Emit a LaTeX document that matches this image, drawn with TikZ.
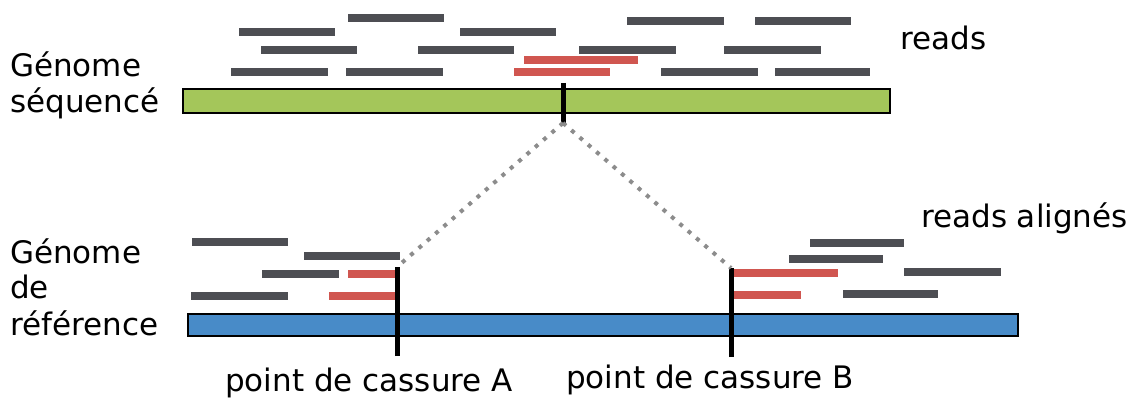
\documentclass[tikz,border=0pt]{standalone}
\usepackage{fontspec}
\setmainfont{DejaVu Sans}
\usepackage{tikz}
\usetikzlibrary{positioning}
\definecolor{readGray}{RGB}{77,78,83}
\definecolor{readRed}{RGB}{208,86,80}
\definecolor{seqGreen}{RGB}{164,198,90}
\definecolor{refBlue}{RGB}{72,139,200}
\definecolor{linkGray}{RGB}{140,140,140}

\tikzset{
    read/.style={readGray, line width=8pt},
    splitread/.style={readRed, line width=8pt},
    genome/.style={draw=black, line width=1.6pt, inner sep=0pt, anchor=north west},
    breakline/.style={black, line width=5pt},
    link/.style={linkGray, line width=4pt, dash pattern=on 4pt off 7pt},
    lbl/.style={font=\fontsize{31}{36}\selectfont, inner sep=0pt, anchor=base west, align=left},
}

\begin{document}
\begin{tikzpicture}[x=1pt,y=-1pt]
\useasboundingbox (0,0) rectangle (1136,398);

% =========================
% 1. sequenced genome
% =========================
\node[genome, fill=seqGreen, minimum width=707pt, minimum height=24pt] (seq) at (182,88) {};

% reads on top
\foreach \x/\y/\l in {348/18/96, 627/21/97, 755/21/96,
                      239/32/96, 460/32/96,
                      261/50/96, 418/50/96, 579/50/97, 724/50/97,
                      231/72/97, 346/72/97, 661/72/97, 775/72/95}
    \draw[read] (\x,\y) -- ++(\l,0);

% split reads
\draw[splitread] (524,60.5) -- (638,60.5);
\draw[splitread] (514,72) -- (610,72);

% junction
\draw[breakline] (563,83) -- (563,123) coordinate (brkTop);

% (base of a multi-line node = last line)
\node[lbl] (seqLabel) at (10,113) {Génome\\séquencé};
\node[lbl] (readsLabel) at (900,50) {reads};

% =========================
% 2. reference genome
% =========================
\node[genome, fill=refBlue, minimum width=830pt, minimum height=22pt] (ref) at (187,313) {};

% aligned reads
\foreach \x/\y/\l in {192/242/96, 304/256/96, 262/274/77, 191/296/97,
                      810/243/94, 789/259/94, 904/272/97, 843/294/95}
    \draw[read] (\x,\y) -- ++(\l,0);

% split reads, cut at the break points
\draw[splitread] (348,274) -- (395,274);
\draw[splitread] (329,296) -- (395,296);
\draw[splitread] (734,273) -- (838,273);
\draw[splitread] (734,295) -- (801,295);

% break points
\draw[breakline] (397,356) -- (397,267) coordinate (brkA);
\draw[breakline] (731,357) -- (731,268) coordinate (brkB);

% links to the junction
\draw[link] (brkTop) -- (brkA);
\draw[link] (brkTop) -- (brkB);

\node[lbl] (refLabel) at (10,335) {Génome\\de\\référence};
\node[lbl] (alignedLabel) at (921,228) {reads alignés};
\node[lbl] (brkALabel) at (225,391) {point de cassure A};
\node[lbl] (brkBLabel) at (566,388) {point de cassure B};

\end{tikzpicture}
\end{document}
